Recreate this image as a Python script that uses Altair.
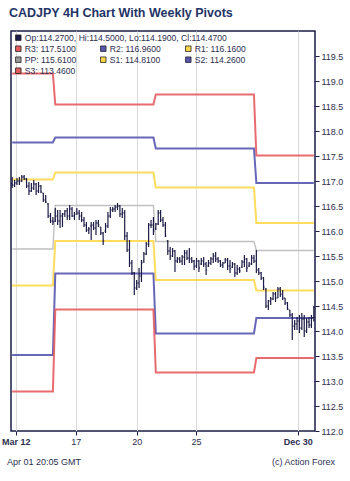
import altair as alt
import pandas as pd

# ---------------- data ----------------
title_text = "CADJPY 4H Chart With Weekly Pivots"
footer_left = "Apr 01 20:05 GMT"
footer_right = "(c) Action Forex"

# bars per week (4H bars)
week_bars = [18, 42, 42, 25]

# weekly pivot levels (one value per week)
levels = ["R3", "R2", "R1", "PP", "S1", "S2", "S3"]
R3 = [119.15, 118.53, 118.73, 117.51]
R2 = [117.77, 117.87, 117.65, 116.96]
R1 = [117.03, 117.17, 116.87, 116.16]
PP = [115.64, 116.51, 115.79, 115.61]
S1 = [114.91, 115.80, 115.02, 114.81]
S2 = [113.52, 115.15, 113.95, 114.26]
S3 = [112.79, 114.43, 113.17, 113.46]
level_colors = ["#e65c5f", "#5757b0", "#ffd84a", "#b9b9b9", "#ffd84a", "#5757b0", "#e65c5f"]
legend_fill = ["#e65c5f", "#5757b0", "#ffd84a", "#999999", "#ffd84a", "#5757b0", "#e65c5f"]

# OHLC bars
high = [117.08,117.02,117.06,117.08,117.12,117.12,117.06,116.98,116.96,117.02,116.96,116.98,116.92,116.76,116.72,116.56,116.36,116.28,
        116.46,116.42,116.42,116.36,116.42,116.46,116.52,116.48,116.38,116.46,116.42,116.38,116.28,116.18,116.08,116.18,116.18,116.22,
        116.22,116.08,115.98,116.16,116.38,116.48,116.48,116.52,116.56,116.52,116.46,116.42,115.98,115.82,115.42,115.18,115.02,115.26,
        115.42,115.58,115.78,116.16,116.22,116.28,
        116.16,116.42,116.42,116.28,116.18,115.82,115.68,115.66,115.62,115.48,115.48,115.52,115.62,115.62,115.66,115.48,115.42,115.46,
        115.42,115.46,115.48,115.38,115.42,115.48,115.56,115.58,115.48,115.42,115.38,115.46,115.46,115.42,115.38,115.36,115.32,115.28,
        115.42,115.52,115.46,115.38,115.52,115.52,
        115.62,115.26,115.18,115.08,114.86,114.62,114.68,114.78,114.78,114.88,114.88,114.82,114.66,114.58,114.42,114.36,114.22,114.28,
        114.32,114.36,114.32,114.26,114.28,114.32,114.50]
low = [116.86,116.88,116.92,116.92,116.98,117.02,116.86,116.72,116.78,116.82,116.72,116.76,116.76,116.58,116.56,116.26,116.16,116.12,
       116.18,116.12,116.06,116.08,116.28,116.22,116.22,116.28,116.22,116.32,116.22,116.18,116.08,115.98,115.94,115.82,116.02,115.92,
       116.08,115.92,115.72,115.96,116.06,116.26,116.38,116.38,116.42,116.28,116.26,115.82,115.58,115.28,115.12,114.72,114.82,114.86,
       114.98,115.36,115.52,115.68,116.06,115.92,
       116.02,116.12,116.18,116.08,115.88,115.52,115.42,115.48,115.18,115.36,115.36,115.32,115.32,115.42,115.36,115.36,115.22,115.26,
       115.18,115.32,115.28,115.12,115.28,115.32,115.36,115.38,115.36,115.28,115.26,115.36,115.22,115.16,115.26,115.08,115.12,115.16,
       115.26,115.28,115.18,115.28,115.32,115.36,
       115.16,115.12,115.02,114.82,114.46,114.42,114.52,114.62,114.58,114.66,114.68,114.62,114.52,114.42,114.28,113.82,114.02,114.02,
       113.96,114.02,113.88,113.96,114.06,114.06,114.19]
open_ = [116.95,116.92,116.96,117.00,117.00,117.08,117.04,116.90,116.80,116.86,116.94,116.80,116.90,116.76,116.62,116.54,116.30,116.20,
         116.20,116.30,116.20,116.30,116.34,116.40,116.30,116.44,116.30,116.40,116.36,116.30,116.22,116.12,116.02,116.10,116.12,116.06,
         116.16,116.08,115.96,116.00,116.10,116.30,116.42,116.44,116.48,116.50,116.34,116.36,115.90,115.62,115.36,115.16,114.86,114.96,
         115.10,115.40,115.54,115.74,116.12,116.12,
         116.04,116.14,116.36,116.22,116.12,115.80,115.60,115.50,115.60,115.40,115.44,115.40,115.48,115.56,115.46,115.44,115.40,115.30,
         115.40,115.34,115.40,115.34,115.30,115.36,115.44,115.50,115.44,115.40,115.32,115.36,115.42,115.30,115.28,115.34,115.16,115.24,
         115.28,115.38,115.44,115.30,115.34,115.46,
         115.40,115.22,115.16,115.06,114.84,114.50,114.60,114.64,114.74,114.66,114.84,114.74,114.66,114.56,114.42,114.32,114.10,114.14,
         114.20,114.06,114.24,114.00,114.18,114.12,114.27]
close = [116.92,116.96,117.00,117.00,117.08,117.04,116.90,116.80,116.86,116.94,116.80,116.90,116.78,116.62,116.58,116.30,116.20,116.18,
         116.30,116.20,116.30,116.34,116.40,116.30,116.44,116.30,116.34,116.36,116.30,116.22,116.12,116.02,116.04,116.12,116.06,116.16,
         116.12,115.96,115.80,116.10,116.30,116.42,116.44,116.48,116.50,116.34,116.36,115.90,115.62,115.36,115.16,114.86,114.96,115.10,
         115.36,115.54,115.74,116.12,116.12,116.00,
         116.14,116.36,116.22,116.12,115.90,115.60,115.50,115.60,115.40,115.44,115.40,115.48,115.56,115.46,115.44,115.40,115.30,115.40,
         115.26,115.40,115.34,115.22,115.36,115.44,115.50,115.44,115.40,115.32,115.36,115.42,115.30,115.24,115.34,115.16,115.24,115.20,
         115.38,115.44,115.26,115.34,115.46,115.40,
         115.22,115.16,115.06,114.88,114.50,114.60,114.64,114.74,114.66,114.84,114.74,114.66,114.56,114.44,114.32,114.10,114.14,114.20,
         114.06,114.24,114.00,114.18,114.12,114.27,114.47]

# x axis ticks (bar-index positions) and their labels
tick_pos = [2, 27, 52.5, 77.3, 119.8]
tick_labels = ["Mar 12", "17", "20", "25", "Dec 30"]
tick_bold = [True, False, False, False, True]

y_ticks = [112.0 + 0.5 * k for k in range(16)]

# ---------------- tables ----------------
N = len(high)
bars = pd.DataFrame({
    "i": list(range(N)), "hi": high, "lo": low, "op": open_, "cl": close,
})
bars["xm"] = bars["i"] + 0.5
bars["xl"] = bars["i"] + 0.05
bars["xr"] = bars["i"] + 0.95

week_of_bar = []
for w, n in enumerate(week_bars):
    week_of_bar += [w] * n

level_values = {"R3": R3, "R2": R2, "R1": R1, "PP": PP, "S1": S1, "S2": S2, "S3": S3}
rows = []
for lv in levels:
    for i in range(N):
        rows.append({"level": lv, "x": i + 0.5, "v": level_values[lv][week_of_bar[i]]})
piv = pd.DataFrame(rows)

xscale = alt.Scale(domain=[0, N], nice=False, zero=False)
yscale = alt.Scale(domain=[112, 120], nice=False, zero=False)

label_expr = ""
for p, l in zip(tick_pos, tick_labels):
    label_expr += f"datum.value == {p} ? '{l}' : "
label_expr += "''"
bold_expr = " || ".join(f"datum.value == {p}" for p, b in zip(tick_pos, tick_bold) if b)
bold_expr = f"({bold_expr}) ? 'bold' : 'normal'"

FONT = "Liberation Sans"
NAVY = "#1b1b46"
TXT = "#2e2e50"

x_axis = alt.Axis(values=tick_pos, labelExpr=label_expr, labelFontWeight={"expr": bold_expr},
                  grid=True, gridColor="#dadada", gridWidth=1, domain=False, tickSize=4,
                  tickColor=NAVY, labelFontSize=9, labelColor=TXT, labelFont=FONT,
                  labelPadding=2, title=None)
y_axis = alt.Axis(orient="right", values=y_ticks, format=".1f", grid=False, domain=False,
                  tickSize=4, tickColor=NAVY, labelFontSize=9, labelColor=TXT,
                  labelFont=FONT, labelPadding=2, title=None)


def X(field):
    return alt.X(field, type="quantitative", scale=xscale, axis=x_axis)


def Y(field):
    return alt.Y(field, type="quantitative", scale=yscale, axis=y_axis)


pivot_lines = []
for lv, col in zip(levels, level_colors):
    d = piv[piv["level"] == lv]
    sw = 1.4 if lv == "PP" else 2
    ln = alt.Chart(d).mark_line(color=col, strokeWidth=sw, opacity=0.9, interpolate="linear").encode(
        x=X("x"), y=Y("v"),
    )
    pivot_lines.append(ln)

base = alt.Chart(bars)
hl = base.mark_rule(color=NAVY, strokeWidth=1.2).encode(x=X("xm"), y=Y("lo"), y2="hi:Q")
ot = base.mark_rule(color=NAVY, strokeWidth=1).encode(x=X("xl"), x2="xm:Q", y=Y("op"))
ct = base.mark_rule(color=NAVY, strokeWidth=1).encode(x=X("xm"), x2="xr:Q", y=Y("cl"))

# ---------------- legend (inside plot) ----------------
last = bars.iloc[-1]
leg_rows = [{"t": f"Op:{last.op:.4f}, Hi:{last.hi:.4f}, Lo:{last.lo:.4f}, Cl:{last.cl:.4f}",
             "c": NAVY, "col": 0, "row": 0}]
for k, lv in enumerate(levels):
    leg_rows.append({"t": f"{lv}: {level_values[lv][-1]:.4f}", "c": legend_fill[k],
                     "col": k % 3, "row": 1 + k // 3})
leg = pd.DataFrame(leg_rows)
col_x = [7.3, 92.3, 177.3]
leg["sx"] = [col_x[c] for c in leg["col"]]
leg["tx"] = leg["sx"] + 6.5
leg["ly"] = 6.7 + 11 * leg["row"]

leg_sq = alt.Chart(leg).mark_square(size=30, stroke="#222222", strokeWidth=0.8, opacity=1).encode(
    x=alt.X("sx:Q", scale=None), y=alt.Y("ly:Q", scale=None),
    color=alt.Color("c:N", scale=None))
leg_tx = alt.Chart(leg).mark_text(align="left", baseline="middle", fontSize=8.6, font=FONT,
                                  color=TXT).encode(
    x=alt.X("tx:Q", scale=None), y=alt.Y("ly:Q", scale=None), text="t:N")

foot = pd.DataFrame({"t": [footer_left, footer_right], "side": ["l", "r"]})
foot_l = alt.Chart(foot[foot.side == "l"]).mark_text(align="left", baseline="middle", fontSize=9,
                                                     font=FONT, color=TXT).encode(
    x=alt.value(-4), y=alt.value(431), text="t:N")
foot_r = alt.Chart(foot[foot.side == "r"]).mark_text(align="right", baseline="middle", fontSize=9,
                                                     font=FONT, color=TXT).encode(
    x=alt.value(324), y=alt.value(431), text="t:N")

chart = alt.layer(*pivot_lines, hl, ot, ct, leg_sq, leg_tx, foot_l, foot_r).properties(
    width=304, height=400,
    title=alt.TitleParams(title_text, anchor="start", frame="group", fontSize=12.5, fontWeight="bold",
                          font=FONT, color="#1f3466", offset=12, dx=-2),
    autosize=alt.AutoSizeParams(type="none"),
    padding={"left": 11, "top": 31, "right": 35, "bottom": 50},
).configure(
    background="white",
    view=alt.ViewConfig(stroke=NAVY, strokeWidth=1.5),
)

chart.save("out.html", embed_options={"renderer": "svg", "actions": False})
